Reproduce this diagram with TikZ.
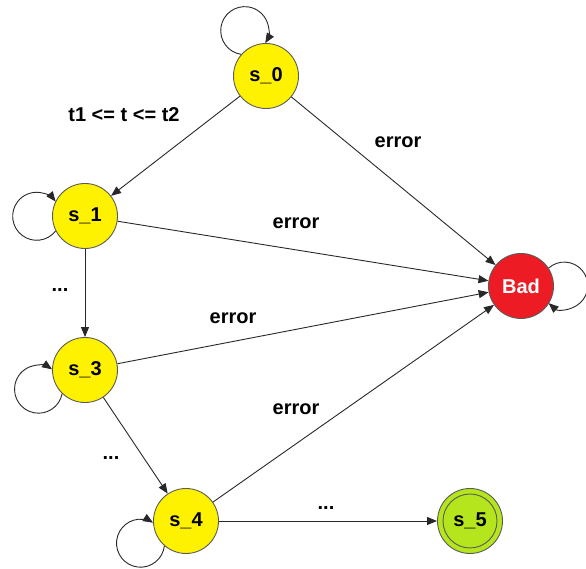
\documentclass[tikz,border=0pt]{standalone}
\usepackage{fontspec}
\setmainfont{Liberation Sans}
\usetikzlibrary{arrows.meta}
\definecolor{stateyellow}{RGB}{255,242,0}
\definecolor{badred}{RGB}{237,28,36}
\definecolor{finalgreen}{RGB}{181,230,29}
\definecolor{rim}{RGB}{90,90,90}
\definecolor{wire}{RGB}{40,40,40}

\begin{document}
\begin{tikzpicture}[x=1pt,y=1pt,
  every node/.style={font=\fontsize{20}{24}\selectfont\bfseries},
  state/.style={circle, draw=rim, line width=0.9pt, fill=stateyellow,
                minimum size=65pt, inner sep=0pt},
  badstate/.style={state, fill=badred, text=white},
  goalstate/.style={state, fill=finalgreen},
  trans/.style={draw=wire, line width=0.9pt, -{Triangle[length=10pt,width=8pt]}},
  lbl/.style={anchor=base, inner sep=0pt}]

\useasboundingbox (0,0) rectangle (586,569);

% states
\node[state]     (s0)  at (266,493) {s\_0};
\node[state]     (s1)  at (85,353)  {s\_1};
\node[state]     (s3)  at (85,199)  {s\_3};
\node[state]     (s4)  at (186,48)  {s\_4};
\node[goalstate] (s5)  at (470,48)  {s\_5};
\node[badstate]  (bad) at (521,283) {Bad};
\draw[rim, line width=0.9pt] (s5.center) circle[radius=27pt];

% transitions
\draw[trans] (s0) -- (s1);
\draw[trans] (s0) -- (bad);
\draw[trans] (s1) -- (bad);
\draw[trans] (s1) -- (s3);
\draw[trans] (s3) -- (bad);
\draw[trans] (s3) -- (s4);
\draw[trans] (s4) -- (bad);
\draw[trans] (s4) -- (s5);

% self loops
\draw[trans] (s0.139) arc[start angle=261.4, end angle=-31.4, radius=24pt];
\draw[trans] (s1.207) arc[start angle=-37.7, end angle=-322.3, radius=24pt];
\draw[trans] (s3.226) arc[start angle=-10.8, end angle=-304.3, radius=24pt];
\draw[trans] (s4.229) arc[start angle=-6.4, end angle=-301.5, radius=24pt];
\draw[trans] (bad.33) arc[start angle=131.7, end angle=-131.7, radius=23.5pt];

% labels
\node[lbl] (guard) at (124,447) {t1 <= t <= t2};
\node[lbl] (e0) at (398,421) {error};
\node[lbl] (e1) at (296,340) {error};
\node[lbl] (e3) at (233,245) {error};
\node[lbl] (e4) at (296,154) {error};
\node[lbl] (d1) at (60,277) {...};
\node[lbl] (d3) at (111,109) {...};
\node[lbl] (d4) at (326,59) {...};
\end{tikzpicture}
\end{document}
